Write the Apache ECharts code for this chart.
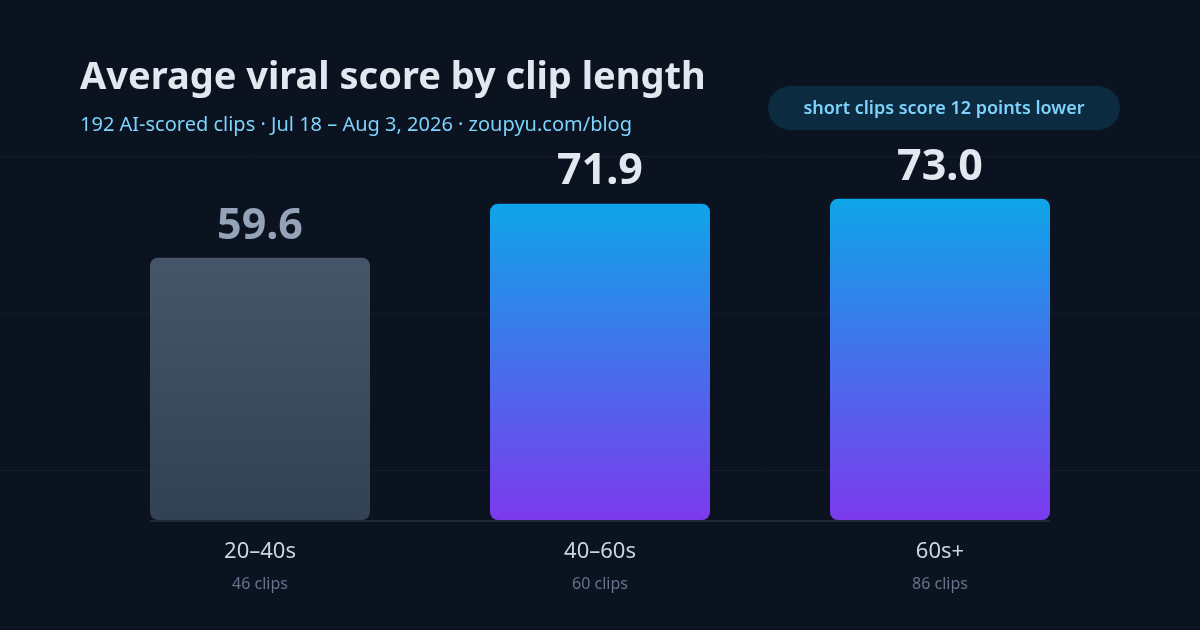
<!DOCTYPE html>
<html>
<head>
<meta charset="utf-8">
<script src="https://cdn.jsdelivr.net/npm/echarts@6/dist/echarts.min.js"></script>
<style>
  html, body { margin: 0; padding: 0; background: #0b1220; }
  #chart {
    width: 1200px; height: 630px;
    background-color: #0b1220;
    background-image: repeating-linear-gradient(to bottom, transparent 0, transparent 156px, rgba(148,163,184,0.06) 156px, rgba(148,163,184,0.06) 157px);
  }
</style>
</head>
<body>
<div id="chart"></div>
<script>
var categories = ['20–40s', '40–60s', '60s+'];
var clipCounts = [46, 60, 86];
var scores = [59.6, 71.9, 73.0];

var FONT = '"Noto Sans", "Open Sans", sans-serif';

var chart = echarts.init(document.getElementById('chart'), null, { renderer: 'canvas' });

// 柱子颜色：短片段灰色，其余渐变
function barColor(i) {
	if (i === 0) {
		return new echarts.graphic.LinearGradient(0, 0, 0, 1, [
			{ offset: 0, color: '#475569' },
			{ offset: 1, color: '#334155' }
		]);
	}
	return new echarts.graphic.LinearGradient(0, 0, 0, 1, [
		{ offset: 0, color: '#0ea5e9' },
		{ offset: 1, color: '#7c3aed' }
	]);
}

var option = {
	backgroundColor: 'transparent',
	animation: false,
	title: {
		text: 'Average viral score by clip length',
		subtext: '192 AI-scored clips · Jul 18 – Aug 3, 2026 · zoupyu.com/blog',
		left: 75,
		top: 54,
		itemGap: 18,
		textStyle: { color: '#e2e8f0', fontSize: 38, fontWeight: 'bold', fontFamily: FONT },
		subtextStyle: { color: '#7dd3fc', fontSize: 20, fontFamily: FONT }
	},
	grid: { left: 90, right: 90, top: 80, bottom: 110 },
	xAxis: {
		type: 'category',
		data: categories,
		axisLine: { show: false },
		axisTick: { show: false },
		axisLabel: {
			margin: 16,
			formatter: function (v, i) {
				return '{cat|' + v + '}\n{n|' + clipCounts[i] + ' clips}';
			},
			rich: {
				cat: { color: '#cbd5e1', fontSize: 22, fontFamily: FONT, lineHeight: 32 },
				n: { color: '#64748b', fontSize: 16, fontFamily: FONT, lineHeight: 32 }
			}
		}
	},
	yAxis: {
		type: 'value',
		min: 0,
		max: 100,
		show: false,
		splitLine: { show: false }
	},
	series: [{
		type: 'bar',
		barWidth: 220,
		data: scores.map(function (v, i) {
			return {
				value: v,
				itemStyle: { color: barColor(i), borderRadius: 8 },
				label: { color: i === 0 ? '#94a3b8' : '#e2e8f0' }
			};
		}),
		label: {
			show: true,
			position: 'top',
			distance: 10,
			fontSize: 43,
			fontWeight: 'bold',
			fontFamily: FONT,
			formatter: function (p) { return p.value.toFixed(1); }
		}
	}],
	graphic: [{
		id: 'badge',
		type: 'rect',
		left: 768,
		top: 86,
		shape: { width: 352, height: 44, r: 22 },
		style: { fill: '#0c2a40' }
	}, {
		id: 'badgeText',
		type: 'text',
		x: 944,
		y: 109,
		style: {
			text: 'short clips score 12 points lower',
			fill: '#7dd3fc',
			fontSize: 18,
			fontWeight: 600,
			fontFamily: FONT,
			align: 'center',
			verticalAlign: 'middle'
		}
	}]
};

chart.setOption(option);

// 底部基线：从第一根柱子左边到最后一根柱子右边
var y0 = chart.convertToPixel({ yAxisIndex: 0 }, 0);
var xa = chart.convertToPixel({ xAxisIndex: 0 }, 0) - 110;
var xb = chart.convertToPixel({ xAxisIndex: 0 }, categories.length - 1) + 110;
chart.setOption({
	graphic: [{
		id: 'baseline',
		type: 'line',
		shape: { x1: xa, y1: y0 + 1, x2: xb, y2: y0 + 1 },
		style: { stroke: '#1e293b', lineWidth: 2 },
		z: 10
	}]
});
</script>
</body>
</html>
